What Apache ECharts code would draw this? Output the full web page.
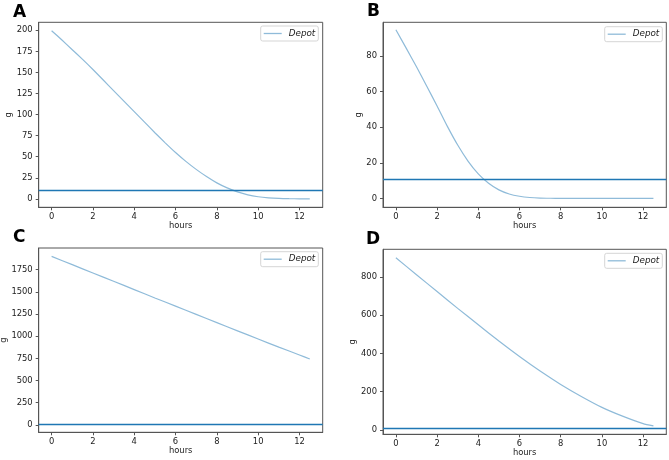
<!DOCTYPE html>
<html>
<head>
<meta charset="utf-8">
<script src="https://cdn.jsdelivr.net/npm/echarts@6/dist/echarts.min.js"></script>
<style>
html,body{margin:0;padding:0;background:#fff;}
#c{width:669px;height:460px;}
</style>
</head>
<body>
<div id="c"></div>
<script>
// ---- data ----
const panelLetters = ['A', 'B', 'C', 'D'];
const seriesName = 'Depot';
const threshold = 10.5;

const timesA = [0,0.5,1,1.5,2,2.5,3,3.5,4,4.5,5,5.5,6,6.5,7,7.5,8,8.5,9,9.5,10,10.5,11,11.5,12,12.5];
const valuesA = [199.5,188.5,177,165.5,153.5,141,128.5,116,103.5,91,78.5,66.5,55,44.5,35,26.5,19,13,8.3,4.8,2.5,1.2,0.5,0.2,0.1,0.05];

const timesB = [0,0.5,1,1.5,2,2.5,3,3.5,4,4.5,5,5.5,6,6.5,7,7.5,8,9,10,11,12,12.5];
const valuesB = [94.8,84.5,74,63,52,40.5,30,21,13.8,8.5,4.8,2.5,1.2,0.5,0.2,0.1,0.05,0.02,0.01,0,0,0];

const timesC = [0,1,2,3,4,5,6,7,8,9,10,11,12,12.5];
const valuesC = [1900,1806,1712,1619,1525,1431,1338,1245,1153,1060,968,876,788,742];

const timesD = [0,1,2,3,4,5,6,7,8,9,10,11,12,12.5];
const valuesD = [901,812,724,636,550,465,384,308,238,175,118,72,33,21];

const xTicks = [0,2,4,6,8,10,12];
const yTicksA = [0,25,50,75,100,125,150,175,200];
const yTicksB = [0,20,40,60,80];
const yTicksC = [0,250,500,750,1000,1250,1500,1750];
const yTicksD = [0,200,400,600,800];

// ---- layout / style ----
const FONT = 'DejaVu Sans';
const FS = 8.4;
const curveColor = '#8fbbd9';
const threshColor = '#1f77b4';
const frameColor = '#555';

const panels = [
  {t: timesA, v: valuesA, yt: yTicksA, ymin: -10, ymax: 209.5, grid: {left: 38.7, top: 22.3, width: 284, height: 185}, nameGap: 22, legend: {right: 350.7, top: 26}, title: {left: 13, top: 4.5}},
  {t: timesB, v: valuesB, yt: yTicksB, ymin: -5, ymax: 99, grid: {left: 383, top: 22.3, width: 283.3, height: 185}, nameGap: 18.5, legend: {right: 6.7, top: 26.7}, title: {left: 367, top: 3}},
  {t: timesC, v: valuesC, yt: yTicksC, ymin: -84, ymax: 1994, grid: {left: 38.7, top: 248, width: 284, height: 184.3}, nameGap: 27, legend: {right: 350.7, top: 251.7}, title: {left: 13, top: 229.5}},
  {t: timesD, v: valuesD, yt: yTicksD, ymin: -23, ymax: 945, grid: {left: 383, top: 249.3, width: 283.3, height: 185}, nameGap: 22.5, legend: {right: 6.7, top: 253.3}, title: {left: 366, top: 231}}
];

const option = {
  animation: false,
  backgroundColor: '#fff',
  textStyle: {fontFamily: FONT},
  title: [], grid: [], xAxis: [], yAxis: [], series: [], legend: []
};

panels.forEach((p, i) => {
  option.title.push({
    text: panelLetters[i], left: p.title.left, top: p.title.top, padding: 0,
    textStyle: {fontFamily: FONT, fontWeight: 'bold', fontSize: 17, color: '#000'}
  });
  option.grid.push(Object.assign({
    show: true, borderColor: frameColor, borderWidth: 1, backgroundColor: 'transparent',
    containLabel: false, outerBoundsMode: 'none'
  }, p.grid));
  option.xAxis.push({
    type: 'value', gridIndex: i, min: -0.625, max: 13.125,
    name: 'hours', nameLocation: 'middle', nameGap: 15,
    nameTextStyle: {fontFamily: FONT, fontSize: FS, color: '#222'},
    axisLine: {show: true, onZero: false, lineStyle: {color: frameColor, width: 1}},
    axisTick: {show: true, length: 3, lineStyle: {color: frameColor}, customValues: xTicks},
    axisLabel: {show: true, margin: 6, fontFamily: FONT, fontSize: FS, color: '#222', customValues: xTicks,
      formatter: v => String(v)},
    splitLine: {show: false}
  });
  option.yAxis.push({
    type: 'value', gridIndex: i, min: p.ymin, max: p.ymax,
    name: 'g', nameLocation: 'middle', nameGap: p.nameGap, nameRotate: 90,
    nameTextStyle: {fontFamily: FONT, fontSize: FS, color: '#222'},
    axisLine: {show: true, onZero: false, lineStyle: {color: frameColor, width: 1}},
    axisTick: {show: true, length: 3, lineStyle: {color: frameColor}, customValues: p.yt},
    axisLabel: {show: true, margin: 6, fontFamily: FONT, fontSize: FS, color: '#222', customValues: p.yt,
      formatter: v => String(v)},
    splitLine: {show: false}
  });
  option.series.push({
    name: seriesName, type: 'line', xAxisIndex: i, yAxisIndex: i,
    data: p.t.map((t, k) => [t, p.v[k]]),
    showSymbol: false, smooth: 0.2,
    lineStyle: {color: curveColor, width: 1.2},
    itemStyle: {color: curveColor},
    markLine: {
      silent: true, symbol: 'none', animation: false,
      label: {show: false},
      lineStyle: {color: threshColor, width: 1.4, type: 'solid'},
      data: [{yAxis: threshold}]
    }
  });
  option.legend.push({
    seriesIndex: i,
    data: [{name: seriesName, icon: 'path://M0,0 L18,0 L18,1.3 L0,1.3 Z', itemStyle: {color: curveColor}}],
    right: p.legend.right, top: p.legend.top,
    orient: 'horizontal',
    itemWidth: 18, itemHeight: 1.3, itemGap: 4,
    padding: [3, 3, 3, 3],
    borderColor: '#d5d5d5', borderWidth: 1, borderRadius: 2,
    backgroundColor: '#fff',
    textStyle: {fontFamily: FONT, fontSize: 8.8, fontStyle: 'italic', color: '#222', padding: [0, 0, 0, 2]},
    selectedMode: false
  });
});

const chart = echarts.init(document.getElementById('c'), null, {renderer: 'canvas'});
chart.setOption(option);
</script>
</body>
</html>
